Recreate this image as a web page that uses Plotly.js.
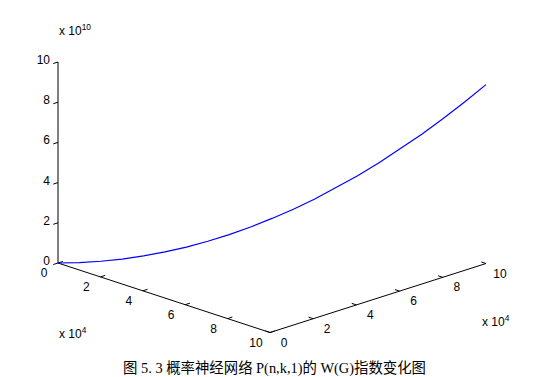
<!DOCTYPE html>
<html>
<head>
<meta charset="utf-8">
<script src="https://cdn.plot.ly/plotly-3.0.1.min.js"></script>
<style>html,body{margin:0;padding:0;background:#fff;}#chart{width:538px;height:377px;}</style>
</head>
<body>
<div id="chart"></div>
<script>
// ---- data ----
// n runs along the x = y diagonal (units of 1e4); W(G) in units of 1e10
const nVals = [0, 0.5, 1, 1.5, 2, 2.5, 3, 3.5, 4, 4.5, 5, 5.5, 6, 6.5, 7, 7.5, 8, 8.5, 9, 9.5, 10];
const wVals = [0, 0.02, 0.09, 0.20, 0.36, 0.56, 0.80, 1.09, 1.42, 1.80, 2.23, 2.69, 3.20, 3.76, 4.36, 5.01, 5.70, 6.43, 7.21, 8.03, 8.90];
const xTicks = [0, 2, 4, 6, 8, 10];
const yTicks = [0, 2, 4, 6, 8, 10];
const zTicks = [0, 2, 4, 6, 8, 10];
const axisMax = 10;
const caption = '图 5. 3 概率神经网络 P(n,k,1)的 W(G)指数变化图';

// ---- 3-D view (fixed MATLAB-like orthographic projection onto a pixel-scaled 2-D axis) ----
const W = 538, H = 377;
const VIEW = {ox: 58, oy: 263, ex: [21.2, 6.95], ey: [21.6, -6.9], ez: [0, -20.1]};
function P(x, y, z) {
  return [VIEW.ox + x * VIEW.ex[0] + y * VIEW.ey[0] + z * VIEW.ez[0],
          VIEW.oy + x * VIEW.ex[1] + y * VIEW.ey[1] + z * VIEW.ez[1]];
}
function seg(list, a, b) { list.x.push(a[0], b[0], null); list.y.push(a[1], b[1], null); }

const font = {family: 'Liberation Sans, Arial, sans-serif', size: 12, color: '#000'};

// curve
const curve = {x: [], y: []};
nVals.forEach((n, i) => { const p = P(n, n, wVals[i]); curve.x.push(p[0]); curve.y.push(p[1]); });

// axis lines and ticks
const axes = {x: [], y: []};
seg(axes, P(0, 0, 0), P(axisMax, 0, 0));
seg(axes, P(axisMax, 0, 0), P(axisMax, axisMax, 0));
seg(axes, P(0, 0, 0), P(0, 0, axisMax));
const tl = 0.22;
xTicks.forEach(t => seg(axes, P(t, 0, 0), P(t, tl, 0)));
yTicks.forEach(t => seg(axes, P(axisMax, t, 0), P(axisMax - tl, t, 0)));
zTicks.forEach(t => seg(axes, P(0, 0, t), P(0, -tl, t)));

// tick labels
const xl = {x: [], y: [], text: []}, yl = {x: [], y: [], text: []}, zl = {x: [], y: [], text: []};
xTicks.forEach(t => { const p = P(t, 0, 0); xl.x.push(p[0] - 14); xl.y.push(p[1] + 11); xl.text.push(String(t)); });
yTicks.forEach(t => { const p = P(axisMax, t, 0); yl.x.push(p[0] + 14); yl.y.push(p[1] + 11); yl.text.push(String(t)); });
zTicks.forEach(t => { const p = P(0, 0, t); zl.x.push(p[0] - 8); zl.y.push(p[1] - 1); zl.text.push(String(t)); });

const data = [
  {type: 'scatter', mode: 'lines', x: axes.x, y: axes.y, line: {color: '#000', width: 1}, hoverinfo: 'skip', connectgaps: false},
  {type: 'scatter', mode: 'lines', x: curve.x, y: curve.y, line: {color: '#0000ff', width: 1.2}, hoverinfo: 'skip'},
  {type: 'scatter', mode: 'text', x: xl.x, y: xl.y, text: xl.text, textposition: 'middle center', textfont: font, hoverinfo: 'skip'},
  {type: 'scatter', mode: 'text', x: yl.x, y: yl.y, text: yl.text, textposition: 'middle center', textfont: font, hoverinfo: 'skip'},
  {type: 'scatter', mode: 'text', x: zl.x, y: zl.y, text: zl.text, textposition: 'middle left', textfont: font, hoverinfo: 'skip'}
];

const layout = {
  width: W, height: H,
  margin: {l: 0, r: 0, t: 0, b: 0},
  paper_bgcolor: '#fff', plot_bgcolor: '#fff',
  showlegend: false,
  xaxis: {range: [0, W], visible: false, fixedrange: true},
  yaxis: {range: [H, 0], visible: false, fixedrange: true},
  annotations: [
    {xref: 'paper', yref: 'paper', x: 57/W, y: 1 - 30/H, xanchor: 'left', yanchor: 'middle', showarrow: false,
     text: 'x 10<sup>10</sup>', font: font},
    {xref: 'paper', yref: 'paper', x: 57/W, y: 1 - 333/H, xanchor: 'left', yanchor: 'middle', showarrow: false,
     text: 'x 10<sup>4</sup>', font: font},
    {xref: 'paper', yref: 'paper', x: 480/W, y: 1 - 321/H, xanchor: 'left', yanchor: 'middle', showarrow: false,
     text: 'x 10<sup>4</sup>', font: font},
    {xref: 'paper', yref: 'paper', x: 274/W, y: 1 - 368/H, xanchor: 'center', yanchor: 'middle', showarrow: false,
     text: caption, font: {family: 'Liberation Serif, Noto Sans CJK SC, serif', size: 14.4, color: '#000'}}
  ]
};

Plotly.newPlot('chart', data, layout, {displayModeBar: false, staticPlot: true});
</script>
</body>
</html>
